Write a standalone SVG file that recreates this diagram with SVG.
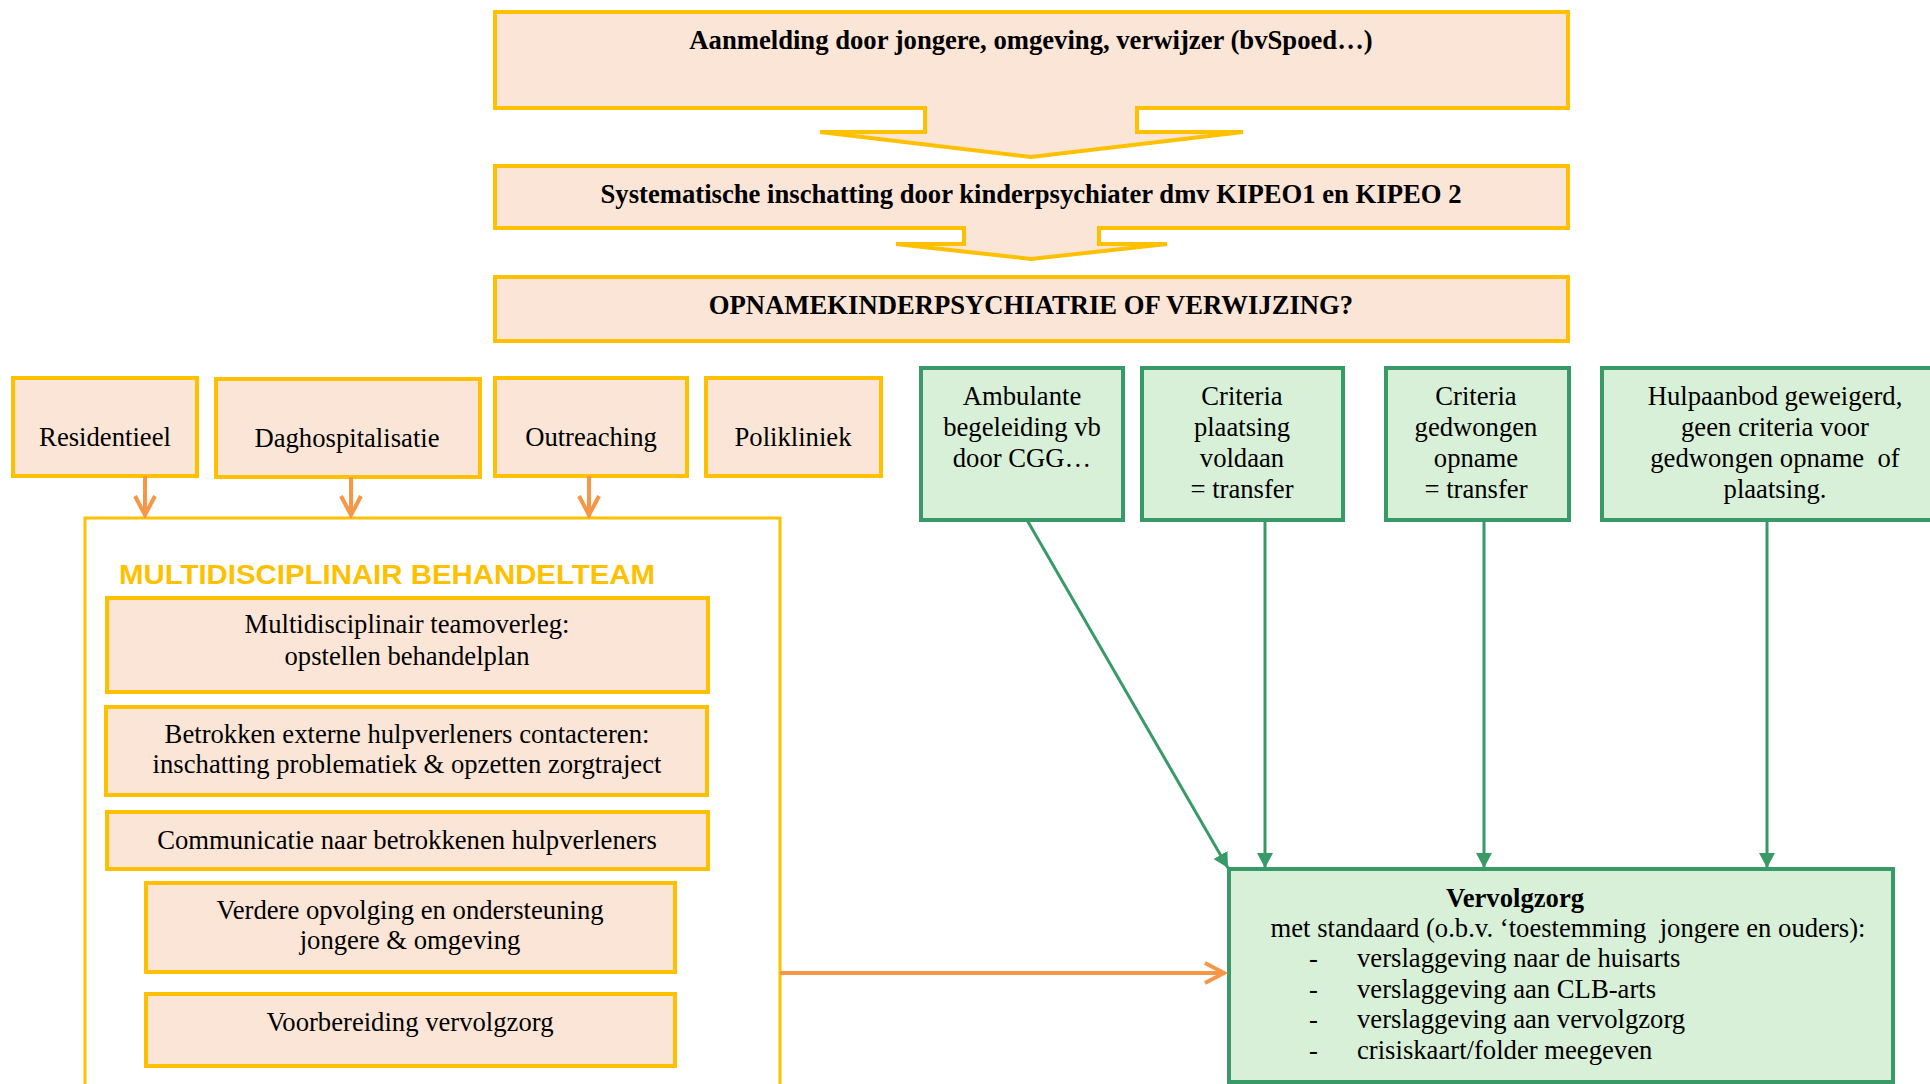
<svg xmlns="http://www.w3.org/2000/svg" width="1930" height="1084" viewBox="0 0 1930 1084">
  <style>
    .ybox { fill: #FBE5D6; stroke: #FFC000; stroke-width: 4; }
    .gbox { fill: #D8F0D8; stroke: #389A67; stroke-width: 4; }
    .frame { fill: #FFFFFF; stroke: #FFC000; stroke-width: 3; }
    .t { font-family: "Liberation Serif", "Times New Roman", serif; font-size: 26.67px; fill: #000; text-anchor: middle; }
    .b { font-weight: bold; }
    .l { text-anchor: start; }
    .head { font-family: "Liberation Sans", Arial, sans-serif; font-size: 28px; font-weight: bold; fill: #FFC000; }
    .og { stroke: #F79646; stroke-width: 4; fill: none; }
    .gr { stroke: #389A67; stroke-width: 3; fill: none; }
  </style>
  <defs>
    <marker id="openArrow" markerUnits="userSpaceOnUse" markerWidth="28" markerHeight="28" refX="22" refY="12" orient="auto">
      <path d="M2,2 L21,12 L2,22" fill="none" stroke="#F79646" stroke-width="4"/>
    </marker>
    <marker id="solidArrow" markerUnits="userSpaceOnUse" markerWidth="18" markerHeight="18" refX="15" refY="8" orient="auto">
      <path d="M0,0 L15,8 L0,16 Z" fill="#389A67"/>
    </marker>
  </defs>

  <rect width="1930" height="1084" fill="#FFFFFF"/>

  <!-- intake flow with block arrows -->
  <g id="aanmelding">
    <path class="ybox" d="M495,12 H1568 V108 H1137 V132 H1243 L1031,157 L820,132 H925 V108 H495 Z"/>
    <text class="t b" x="1031" y="49">Aanmelding door jongere, omgeving, verwijzer (bvSpoed…)</text>
  </g>
  <g id="inschatting">
    <path class="ybox" d="M495,166 H1568 V228 H1099 V244 H1167 L1031,259 L896,244 H964 V228 H495 Z"/>
    <text class="t b" x="1031" y="203">Systematische inschatting door kinderpsychiater dmv KIPEO1 en KIPEO 2</text>
  </g>
  <g id="beslissing">
    <rect class="ybox" x="495" y="277" width="1073" height="64"/>
    <text class="t b" x="1031" y="314">OPNAMEKINDERPSYCHIATRIE OF VERWIJZING?</text>
  </g>

  <!-- care settings -->
  <g id="residentieel">
    <rect class="ybox" x="13" y="378" width="184" height="98"/>
    <text class="t" x="105" y="446">Residentieel</text>
  </g>
  <g id="daghospitalisatie">
    <rect class="ybox" x="216" y="379" width="264" height="98"/>
    <text class="t" x="347" y="447">Daghospitalisatie</text>
  </g>
  <g id="outreaching">
    <rect class="ybox" x="495" y="378" width="192" height="98"/>
    <text class="t" x="591" y="446">Outreaching</text>
  </g>
  <g id="polikliniek">
    <rect class="ybox" x="706" y="378" width="175" height="98"/>
    <text class="t" x="793" y="446">Polikliniek</text>
  </g>

  <!-- treatment team -->
  <g id="behandelteam">
    <path class="frame" d="M85,1090 V518 H780 V1090"/>
    <text class="head" x="119" y="584" textLength="536" lengthAdjust="spacingAndGlyphs">MULTIDISCIPLINAIR BEHANDELTEAM</text>
  </g>
  <g id="teamoverleg">
    <rect class="ybox" x="107" y="598" width="601" height="94"/>
    <text class="t" x="407" y="633">Multidisciplinair teamoverleg:</text>
    <text class="t" x="407" y="665">opstellen behandelplan</text>
  </g>
  <g id="externe-hulpverleners">
    <rect class="ybox" x="106" y="707" width="601" height="88"/>
    <text class="t" x="407" y="743">Betrokken externe hulpverleners contacteren:</text>
    <text class="t" x="407" y="773">inschatting problematiek &amp; opzetten zorgtraject</text>
  </g>
  <g id="communicatie">
    <rect class="ybox" x="107" y="812" width="601" height="57"/>
    <text class="t" x="407" y="849">Communicatie naar betrokkenen hulpverleners</text>
  </g>
  <g id="opvolging">
    <rect class="ybox" x="146" y="883" width="529" height="89"/>
    <text class="t" x="410" y="919">Verdere opvolging en ondersteuning</text>
    <text class="t" x="410" y="949">jongere &amp; omgeving</text>
  </g>
  <g id="voorbereiding">
    <rect class="ybox" x="146" y="994" width="529" height="72"/>
    <text class="t" x="410" y="1031">Voorbereiding vervolgzorg</text>
  </g>

  <!-- referral outcomes -->
  <g id="ambulant">
    <rect class="gbox" x="921" y="368" width="202" height="152"/>
    <text class="t" x="1022" y="405">Ambulante</text>
    <text class="t" x="1022" y="436">begeleiding vb</text>
    <text class="t" x="1022" y="467">door CGG…</text>
  </g>
  <g id="plaatsing">
    <rect class="gbox" x="1142" y="368" width="201" height="152"/>
    <text class="t" x="1242" y="405">Criteria</text>
    <text class="t" x="1242" y="436">plaatsing</text>
    <text class="t" x="1242" y="467">voldaan</text>
    <text class="t" x="1242" y="498">= transfer</text>
  </g>
  <g id="gedwongen-opname">
    <rect class="gbox" x="1386" y="368" width="183" height="152"/>
    <text class="t" x="1476" y="405">Criteria</text>
    <text class="t" x="1476" y="436">gedwongen</text>
    <text class="t" x="1476" y="467">opname</text>
    <text class="t" x="1476" y="498">= transfer</text>
  </g>
  <g id="geweigerd">
    <rect class="gbox" x="1602" y="368" width="340" height="152"/>
    <text class="t" x="1775" y="405">Hulpaanbod geweigerd,</text>
    <text class="t" x="1775" y="436">geen criteria voor</text>
    <text class="t" x="1775" y="467">gedwongen opname&#160; of</text>
    <text class="t" x="1775" y="498">plaatsing.</text>
  </g>

  <!-- aftercare -->
  <g id="vervolgzorg">
    <rect class="gbox" x="1229" y="869" width="664" height="213"/>
    <text class="t b" x="1515" y="907">Vervolgzorg</text>
    <text class="t" x="1568" y="937">met standaard (o.b.v. ‘toestemming&#160; jongere en ouders):</text>
    <text class="t l" x="1309" y="967">-</text>
    <text class="t l" x="1357" y="967">verslaggeving naar de huisarts</text>
    <text class="t l" x="1309" y="998">-</text>
    <text class="t l" x="1357" y="998">verslaggeving aan CLB-arts</text>
    <text class="t l" x="1309" y="1028">-</text>
    <text class="t l" x="1357" y="1028">verslaggeving aan vervolgzorg</text>
    <text class="t l" x="1309" y="1059">-</text>
    <text class="t l" x="1357" y="1059">crisiskaart/folder meegeven</text>
  </g>

  <!-- connectors -->
  <g id="connectors">
    <line class="og" x1="145" y1="476" x2="145" y2="516" marker-end="url(#openArrow)"/>
    <line class="og" x1="351" y1="477" x2="351" y2="516" marker-end="url(#openArrow)"/>
    <line class="og" x1="589" y1="476" x2="589" y2="516" marker-end="url(#openArrow)"/>
    <line class="og" x1="780" y1="973" x2="1225" y2="973" marker-end="url(#openArrow)"/>
    <line class="gr" x1="1027" y1="520" x2="1228" y2="868" marker-end="url(#solidArrow)"/>
    <line class="gr" x1="1265" y1="520" x2="1265" y2="868" marker-end="url(#solidArrow)"/>
    <line class="gr" x1="1484" y1="520" x2="1484" y2="868" marker-end="url(#solidArrow)"/>
    <line class="gr" x1="1767" y1="520" x2="1767" y2="868" marker-end="url(#solidArrow)"/>
  </g>
</svg>
